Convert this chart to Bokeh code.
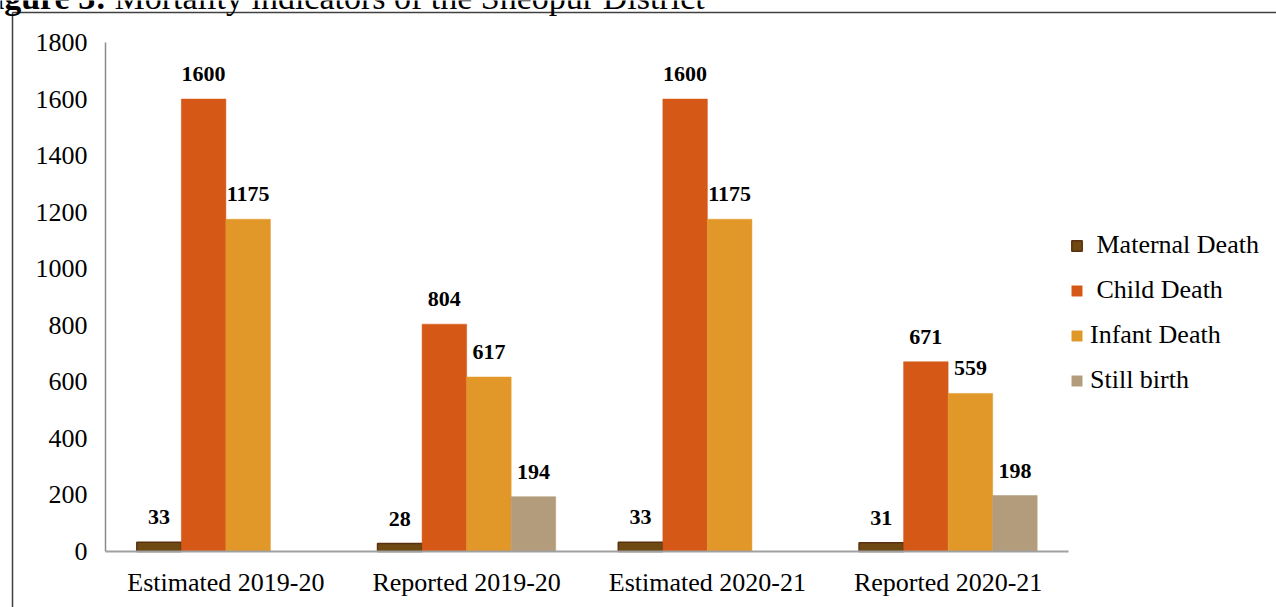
from bokeh.plotting import figure
from bokeh.models import (ColumnDataSource, Range1d, Legend, LegendItem,
                          FixedTicker)
from bokeh.core.properties import value
from bokeh.embed import file_html
from bokeh.resources import INLINE

# Mortality indicators, Sheopur District
categories = ["Estimated 2019-20", "Reported 2019-20", "Estimated 2020-21", "Reported 2020-21"]
maternal_death = [33, 28, 33, 31]
child_death = [1600, 804, 1600, 671]
infant_death = [1175, 617, 1175, 559]
still_birth = [None, 194, None, 198]
y_ticks = [0, 200, 400, 600, 800, 1000, 1200, 1400, 1600, 1800]

series = [
    (" Maternal Death", maternal_death, "#6E4A12", "#5A3010"),
    (" Child Death", child_death, "#D55817", "#D55817"),
    ("Infant Death", infant_death, "#E19829", "#E19829"),
    ("Still birth", still_birth, "#B29C7C", "#B29C7C"),
]

SERIF = "Liberation Serif"
FRAME_COLOR = "#404040"
BAR_W = 0.185
offsets = [-1.5 * BAR_W, -0.5 * BAR_W, 0.5 * BAR_W, 1.5 * BAR_W]

# page geometry (pixels): canvas size and the plotting area inside it
W, H = 1276, 607
AREA_L, AREA_R, AREA_T, AREA_B = 105, 1068, 42, 551
Y_MAX = y_ticks[-1]

x_unit = (AREA_R - AREA_L) / len(categories)      # pixels per category
y_unit = (AREA_B - AREA_T) / Y_MAX                # pixels per death
x_start = -0.5 - AREA_L / x_unit
x_end = x_start + W / x_unit
y_end = Y_MAX + AREA_T / y_unit
y_start = y_end - H / y_unit


def px_x(px):
    return x_start + px / x_unit


def px_y(py):
    return y_end - py / y_unit


xpos = list(range(len(categories)))

p = figure(width=W, height=H, x_range=Range1d(x_start, x_end),
           y_range=Range1d(y_start, y_end), output_backend="svg",
           toolbar_location=None, min_border=0)
p.outline_line_color = None
p.xgrid.grid_line_color = None
p.ygrid.grid_line_color = None
p.background_fill_color = "white"
p.border_fill_color = "white"

legend_items = []
for (name, vals, fill, line), off in zip(series, offsets):
    xs = [x + off for x, v in zip(xpos, vals) if v is not None]
    tops = [v for v in vals if v is not None]
    src = ColumnDataSource(dict(x=xs, top=tops, lab=[str(v) for v in tops]))
    r = p.vbar(x="x", top="top", width=BAR_W, source=src, fill_color=fill,
               line_color=line, line_width=1.5 if line != fill else 0.5)
    p.text(x="x", y="top", text="lab", source=src, text_align="center",
           text_baseline="middle", y_offset=-25, text_font=value(SERIF),
           text_font_style="bold", text_font_size="22px", text_color="black")
    legend_items.append(LegendItem(label=name, renderers=[r]))

# axes, pinned to the edges of the plotting area
p.xaxis.fixed_location = 0
p.yaxis.fixed_location = -0.5
p.xaxis.ticker = FixedTicker(ticks=xpos)
p.xaxis.major_label_overrides = {i: c for i, c in zip(xpos, categories)}
p.yaxis.ticker = FixedTicker(ticks=y_ticks)
for ax in (p.xaxis, p.yaxis):
    ax.axis_line_color = None
    ax.major_tick_line_color = None
    ax.minor_tick_line_color = None
    ax.major_tick_out = 0
    ax.major_tick_in = 0
    ax.major_label_text_font = SERIF
    ax.major_label_text_font_size = "26px"
    ax.major_label_text_color = "black"
p.yaxis.major_label_standoff = 18
p.xaxis.major_label_standoff = 16

# axis lines limited to the plotting area
p.segment(x0=[-0.5], y0=[0], x1=[-0.5], y1=[Y_MAX], line_color="#8C8C8C", line_width=1.5)
p.segment(x0=[-0.5], y0=[0], x1=[len(categories) - 0.5], y1=[0],
          line_color="#A0A0A0", line_width=2)

legend = Legend(items=legend_items, location=(1070, 212), orientation="vertical",
                label_text_font=SERIF, label_text_font_size="26px",
                label_text_color="black", glyph_width=13, glyph_height=13,
                label_standoff=7, spacing=15, padding=0, margin=0,
                border_line_color=None, background_fill_alpha=0)
p.add_layout(legend, "center")

# frame around the figure and its caption above it
p.segment(x0=[px_x(12)], y0=[px_y(12)], x1=[px_x(W + 5)], y1=[px_y(12)],
          line_color=FRAME_COLOR, line_width=1.5)
p.segment(x0=[px_x(12)], y0=[px_y(12)], x1=[px_x(12)], y1=[px_y(H + 5)],
          line_color=FRAME_COLOR, line_width=1.5)
p.text(x=[px_x(106)], y=[px_y(-3)], text=["Figure 3:"], text_align="right",
       text_baseline="alphabetic", text_font=value(SERIF), text_font_style="bold",
       text_font_size="34px", text_color="black")
p.text(x=[px_x(114)], y=[px_y(-3)], text=["Mortality indicators of the Sheopur District"],
       text_align="left", text_baseline="alphabetic", text_font=value(SERIF),
       text_font_size="34px", text_color="black")

open("out.html", "w").write(file_html(p, INLINE))
